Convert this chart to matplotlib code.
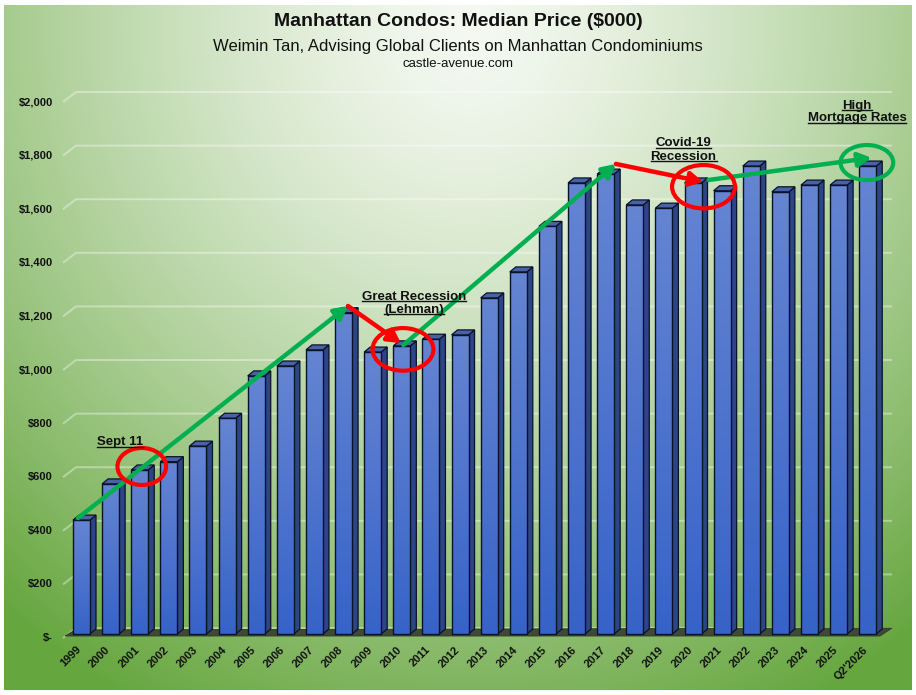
import numpy as np
import matplotlib
matplotlib.use('Agg')
import matplotlib.pyplot as plt
from matplotlib.patches import Polygon, Ellipse, Rectangle
from matplotlib.lines import Line2D
from matplotlib import font_manager
from matplotlib.colors import to_rgb

# ---------------- data ----------------
years = ['1999', '2000', '2001', '2002', '2003', '2004', '2005', '2006', '2007',
         '2008', '2009', '2010', '2011', '2012', '2013', '2014', '2015', '2016',
         '2017', '2018', '2019', '2020', '2021', '2022', '2023', '2024', '2025',
         "Q2'2026"]
prices = [425, 560, 612, 643, 701, 805, 963, 1000, 1060, 1199, 1052, 1075,
          1100, 1116, 1254, 1351, 1521, 1683, 1716, 1601, 1589, 1683, 1654,
          1746, 1650, 1675, 1675, 1746]
ytick_values = [0, 200, 400, 600, 800, 1000, 1200, 1400, 1600, 1800, 2000]
ytick_labels = ['$-', '$200', '$400', '$600', '$800', '$1,000', '$1,200',
                '$1,400', '$1,600', '$1,800', '$2,000']
title = 'Manhattan Condos: Median Price ($000)'
subtitle = 'Weimin Tan, Advising Global Clients on Manhattan Condominiums'
url = 'castle-avenue.com'

# ---------------- fonts ----------------
avail = {f.name for f in font_manager.fontManager.ttflist}
narrow = 'Liberation Sans Narrow' if 'Liberation Sans Narrow' in avail else 'Liberation Sans'
plt.rcParams['font.family'] = ['Liberation Sans', 'DejaVu Sans']

W, H = 916, 695
fig = plt.figure(figsize=(W / 100, H / 100), dpi=100, facecolor='white')

# ---------------- background gradient ----------------
bg = fig.add_axes([4 / W, 5 / H, 908 / W, 685 / H])
bg.axis('off')
yy, xx = np.mgrid[0:685, 0:908]
d = np.sqrt(((xx - 466) / 600.0) ** 2 + ((yy - 20) / 640.0) ** 2)
t = np.clip(d / 1.2, 0, 1) ** 1.35
light = np.array(to_rgb('#f5f9f2'))
dark = np.array(to_rgb('#66a63e'))
rgb = light[None, None, :] * (1 - t[..., None]) + dark[None, None, :] * t[..., None]
bg.imshow(rgb, aspect='auto', interpolation='bilinear')

# ---------------- main axes (pixel-calibrated) ----------------
X0, DX = 81.5, 29.12      # pixel x of first bar centre, spacing
Y0, KY = 634.0, 0.268     # pixel y of value 0, pixels per unit


def px2x(px):
    return (px - X0) / DX


def px2v(py):
    return (Y0 - py) / KY


ax = fig.add_axes([0, 0, 1, 1])
ax.patch.set_alpha(0)
ax.axis('off')
xlim = (px2x(0), px2x(W))
ylim = (px2v(H), px2v(0))

# gridlines on back wall
for v, lab in zip(ytick_values, ytick_labels):
    ax.plot([px2x(63), px2x(76), px2x(892)],
            [v - 15, v - 15 + 10 / KY, v - 15 + 10 / KY],
            color='white', alpha=0.38, lw=1.4, zorder=1, solid_capstyle='butt')
    ax.text(px2x(53), v - 15, lab,
            ha='right', va='center', fontsize=8, fontweight='bold',
            color='#111111')

# floor
floor = Polygon([(px2x(65), px2v(636)), (px2x(880), px2v(636)),
                 (px2x(892), px2v(628)), (px2x(75), px2v(630))],
                closed=True, facecolor='#3e4a34', edgecolor='#2e3828',
                lw=0.6, zorder=2)
ax.add_patch(floor)

# 3D bars
bw = 17 / DX
ddx = 6 / DX
ddy = 5 / KY
grad = np.linspace(0, 1, 64)[:, None]
ctop = np.array(to_rgb('#6585d2'))
cbot = np.array(to_rgb('#3763c8'))
front_img = ctop[None, None, :] * (1 - grad[..., None]) + cbot[None, None, :] * grad[..., None]
for i, v in enumerate(prices):
    xl, xr = i - bw / 2, i + bw / 2
    side = Polygon([(xr, 0), (xr + ddx, ddy), (xr + ddx, v + ddy), (xr, v)],
                   closed=True, facecolor='#2c4584', edgecolor='#0b1228',
                   lw=0.9, zorder=3)
    top = Polygon([(xl, v), (xr, v), (xr + ddx, v + ddy), (xl + ddx, v + ddy)],
                  closed=True, facecolor='#4862a8', edgecolor='#0b1228',
                  lw=0.9, zorder=3)
    ax.add_patch(side)
    ax.add_patch(top)
    rect = Rectangle((xl, 0), bw, v, facecolor='none', edgecolor='#0b1228',
                     lw=1.0, zorder=4)
    ax.add_patch(rect)
    im = ax.imshow(front_img, extent=(xl, xr, 0, v), aspect='auto',
                   zorder=3.5, interpolation='bilinear')
    im.set_clip_path(rect)

# x tick labels
for i, lab in enumerate(years):
    ax.text(i - 2 / DX, px2v(648), lab, rotation=45, rotation_mode='anchor',
            ha='right', va='center', fontsize=8, fontweight='bold',
            color='#111111')

# ---------------- annotations ----------------
idx = {y: k for k, y in enumerate(years)}
val = dict(zip(years, prices))
GREEN = '#00b050'
RED = '#ff0000'


def arrow(p0, p1, color):
    ax.annotate('', xy=p1, xytext=p0, zorder=6,
                arrowprops=dict(arrowstyle='-|>,head_length=0.55,head_width=0.3',
                                color=color, lw=3.2, mutation_scale=14,
                                shrinkA=0, shrinkB=0))


arrow((idx['1999'] - 0.12, val['1999'] + 8), (idx['2008'] + 0.15, val['2008'] + 25), GREEN)
arrow((idx['2008'] + 0.15, val['2008'] + 25), (idx['2010'] - 0.03, val['2010'] + 10), RED)
arrow((idx['2010'] + 0.05, val['2010'] + 3), (idx['2017'] + 0.35, val['2017'] + 38), GREEN)
arrow((idx['2017'] + 0.35, val['2017'] + 38), (idx['2020'] + 0.35, val['2020'] + 4), RED)
arrow((idx['2020'] + 0.53, val['2020'] + 11), (idx["Q2'2026"] + 0.13, val["Q2'2026"] + 31), GREEN)

ells = [(idx['2001'] + 0.07, val['2001'] + 13, 1.67, 138, RED),
        (idx['2010'] + 0.04, val['2010'] - 13, 2.09, 159, RED),
        (idx['2020'] + 0.36, val['2020'] - 14, 2.16, 162, RED),
        (idx["Q2'2026"] - 0.03, val["Q2'2026"] + 13, 1.81, 131, GREEN)]
for cx, cy, w, h, c in ells:
    ax.add_patch(Ellipse((cx, cy), w, h, facecolor='none', edgecolor=c,
                         lw=3.0, zorder=7))

ax.set_xlim(*xlim)
ax.set_ylim(*ylim)

# annotation labels (baseline positions in pixels)
labels = [('Sept 11', 120, 445.5),
          ('Great Recession', 414, 299.5),
          ('(Lehman)', 414, 312.5),
          ('Covid-19', 683.5, 146),
          ('Recession', 683.5, 159.5),
          ('High', 857, 108.5),
          ('Mortgage Rates', 857, 121.5)]
ann_texts = []
for s, px, py in labels:
    tx = fig.text(px / W, 1 - py / H, s, ha='center', va='baseline',
                  fontsize=9.5, fontweight='bold', color='#111111', zorder=8)
    ann_texts.append((tx, py))

# titles
fig.text(458 / W, 1 - 22 / H, title, ha='center', va='center',
         fontsize=14, fontweight='bold', family=narrow, color='#111111')
fig.text(458 / W, 1 - 46 / H, subtitle, ha='center', va='center',
         fontsize=12, family=narrow, color='#111111')
fig.text(458 / W, 1 - 64 / H, url, ha='center', va='center',
         fontsize=9.5, family=narrow, color='#111111')

# underline annotation labels
fig.canvas.draw()
r = fig.canvas.get_renderer()
for tx, py in ann_texts:
    bb = tx.get_window_extent(r)
    yline = (H - py - 1.8)
    fig.add_artist(Line2D([bb.x0 / W, bb.x1 / W], [yline / H, yline / H],
                          transform=fig.transFigure, color='#111111', lw=1.0))

fig.savefig('out.png', dpi=100, facecolor='white')
